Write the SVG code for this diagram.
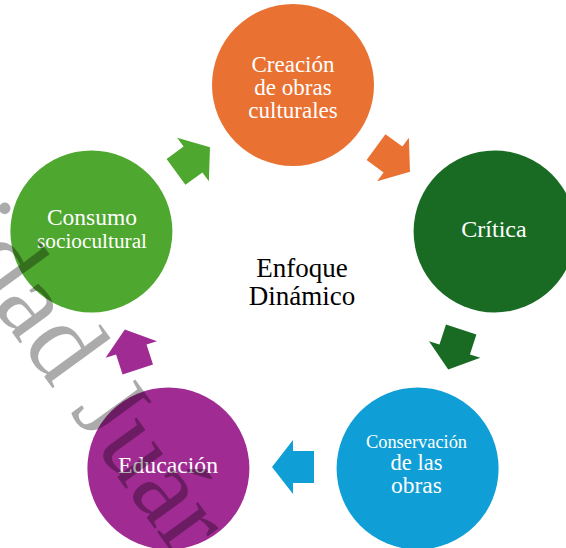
<svg xmlns="http://www.w3.org/2000/svg" xmlns:xlink="http://www.w3.org/1999/xlink" width="566" height="548" viewBox="0 0 566 548">
<style>
text{font-family:'Liberation Serif','DejaVu Serif',serif}
.lbl{fill:#ffffff;text-anchor:middle}
.ctr{fill:#000000;text-anchor:middle;font-size:27px}
.wm{fill:#000000;fill-opacity:0.33;font-size:110px}
</style>
<defs>
<polygon id="arr" points="-21,-16 0,-16 0,-27 21,0 0,27 0,16 -21,16"/>
</defs>
<rect width="566" height="548" fill="#ffffff"/>
<g id="connectors">
<use xlink:href="#arr" transform="translate(393,159.5) rotate(36)" fill="#E97132"/>
<use xlink:href="#arr" transform="translate(454.7,349.5) rotate(108)" fill="#196B24"/>
<use xlink:href="#arr" transform="translate(293,467) rotate(180)" fill="#0F9ED5"/>
<use xlink:href="#arr" transform="translate(131.3,349.5) rotate(252)" fill="#A02B93"/>
<use xlink:href="#arr" transform="translate(193,159.5) rotate(-36)" fill="#4EA72E"/>
</g>
<g id="creacion">
<circle cx="293" cy="85" r="81" fill="#E97132"/>
<text class="lbl" x="293" y="72" font-size="23" font-family="Liberation Serif, serif">Creación</text>
<text class="lbl" x="293" y="95" font-size="23" font-family="Liberation Serif, serif">de obras</text>
<text class="lbl" x="293" y="118" font-size="23" font-family="Liberation Serif, serif">culturales</text>
</g>
<g id="critica">
<circle cx="494.6" cy="231.5" r="81" fill="#196B24"/>
<text class="lbl" x="494" y="237" font-size="24" font-family="Liberation Serif, serif">Crítica</text>
</g>
<g id="conservacion">
<circle cx="417.6" cy="468.5" r="81" fill="#0F9ED5"/>
<text class="lbl" x="416.5" y="448" font-size="18.4" font-family="Liberation Serif, serif">Conservación</text>
<text class="lbl" x="416.5" y="470" font-size="22.5" font-family="Liberation Serif, serif">de las</text>
<text class="lbl" x="416.5" y="493" font-size="23.5" font-family="Liberation Serif, serif">obras</text>
</g>
<g id="educacion">
<circle cx="168.4" cy="468.5" r="81" fill="#A02B93"/>
<text class="lbl" x="168" y="473" font-size="23.7" font-family="Liberation Serif, serif">Educación</text>
</g>
<g id="consumo">
<circle cx="91.4" cy="231.5" r="81" fill="#4EA72E"/>
<text class="lbl" x="92" y="225" font-size="23.5" font-family="Liberation Serif, serif">Consumo</text>
<text class="lbl" x="92" y="248" font-size="21.3" font-family="Liberation Serif, serif">sociocultural</text>
</g>
<g id="centro">
<text class="ctr" x="302" y="277" font-family="Liberation Serif, serif">Enfoque</text>
<text class="ctr" x="302" y="305" font-family="Liberation Serif, serif">Dinámico</text>
</g>
<text class="wm" transform="translate(-58,236) rotate(54)" font-family="Liberation Serif, serif" font-size="115">idad Juár</text>
</svg>
